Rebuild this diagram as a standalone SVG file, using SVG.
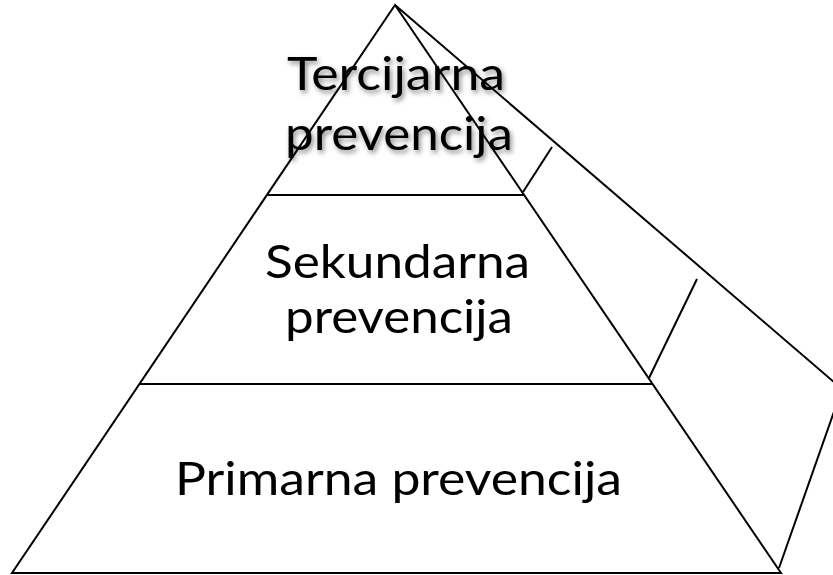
<svg xmlns="http://www.w3.org/2000/svg" width="833" height="575" viewBox="0 0 833 575">
<style>
.ln{fill:none;stroke:#000;stroke-width:2;stroke-linejoin:miter}
.t{font-family:Lato,"Open Sans","Liberation Sans",sans-serif;font-size:46px;fill:#000;text-anchor:middle}
</style>
<defs>
<filter id="sh" x="-10%" y="-20%" width="130%" height="150%">
<feDropShadow dx="2" dy="3" stdDeviation="2.5" flood-color="#000" flood-opacity="0.45"/>
</filter>
</defs>
<rect width="833" height="575" fill="#fff"/>
<g id="connectors">
<polyline class="ln" points="395,5 842,389 779,568"/>
<line class="ln" x1="523" y1="192" x2="552" y2="147"/>
<line class="ln" x1="649" y1="378" x2="697" y2="279"/>
</g>
<g id="pyramid">
<polygon class="ln" points="395,5 12,573 781,573"/>
<line class="ln" x1="268" y1="195" x2="524" y2="195"/>
<line class="ln" x1="140" y1="384" x2="652" y2="384"/>
</g>
<g id="tercijarna">
<text class="t" filter="url(#sh)" x="396" y="90" textLength="218" lengthAdjust="spacingAndGlyphs">Tercijarna</text>
<text class="t" filter="url(#sh)" x="399" y="150" textLength="228" lengthAdjust="spacingAndGlyphs">prevencija</text>
</g>
<g id="sekundarna">
<text class="t" x="397.5" y="278" textLength="265" lengthAdjust="spacingAndGlyphs">Sekundarna</text>
<text class="t" x="399" y="333" textLength="228" lengthAdjust="spacingAndGlyphs">prevencija</text>
</g>
<g id="primarna">
<text class="t" x="398.5" y="495" textLength="447" lengthAdjust="spacingAndGlyphs">Primarna prevencija</text>
</g>
</svg>
